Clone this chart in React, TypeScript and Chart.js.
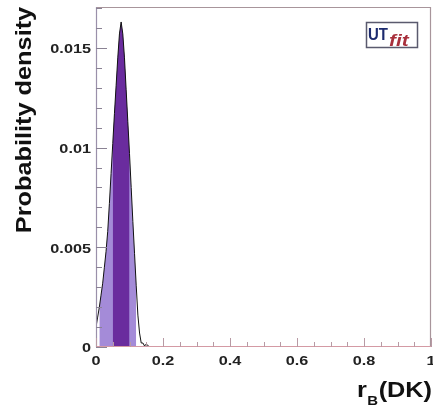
import React, { useEffect, useRef } from "react";
import { Chart, registerables } from "chart.js";

Chart.register(...registerables);

// ---- data ----
const rValues = [
  0, 0.005, 0.01, 0.015, 0.02, 0.025, 0.03, 0.035, 0.04, 0.045, 0.05, 0.055,
  0.06, 0.065, 0.07, 0.075, 0.08, 0.085, 0.09, 0.095, 0.1, 0.105, 0.11, 0.115,
  0.12, 0.125, 0.13, 0.135, 0.14, 0.145, 0.15, 0.16, 1.0,
];
const density = [
  0.001, 0.0015, 0.002, 0.0026, 0.0032, 0.004, 0.0048, 0.0058, 0.0072, 0.0087,
  0.0102, 0.0117, 0.0131, 0.0145, 0.0157, 0.0163, 0.0157, 0.0145, 0.0129,
  0.0113, 0.0097, 0.008, 0.0063, 0.0047, 0.0031, 0.0016, 0.0007, 0.0002,
  0.0002, 0.00005, 0.00015, 0, 0,
];
const yTickValues = [0, 0.005, 0.01, 0.015];
const yTickLabels = ["0", "0.005", "0.01", "0.015"];
const xTickValues = [0, 0.2, 0.4, 0.6, 0.8, 1];
const xTickLabels = ["0", "0.2", "0.4", "0.6", "0.8", "1"];
const lightBand = [0.01, 0.12];
const darkBand = [0.05, 0.1];
const yTitle = "Probability density";
const xTitleMain = "r";
const xTitleSub = "B";
const xTitleRest = "(DK)";

const FONT = '"Liberation Sans", Arial, Helvetica, sans-serif';

function points(range?: number[]) {
  const out: { x: number; y: number }[] = [];
  rValues.forEach((x, i) => {
    if (!range || (x >= range[0] - 1e-9 && x <= range[1] + 1e-9)) {
      out.push({ x, y: density[i] });
    }
  });
  return out;
}

function sText(
  ctx: CanvasRenderingContext2D,
  text: string,
  x: number,
  y: number,
  sx: number,
  align: CanvasTextAlign
) {
  ctx.save();
  ctx.translate(x, y);
  ctx.scale(sx, 1);
  ctx.textAlign = align;
  ctx.fillText(text, 0, 0);
  ctx.restore();
}

const decorPlugin = {
  id: "decor",
  afterDraw(chart: any) {
    const ctx: CanvasRenderingContext2D = chart.ctx;
    const xs = chart.scales.x;
    const ys = chart.scales.y;
    const { left, right, top, bottom } = chart.chartArea;
    ctx.save();

    // frame
    ctx.lineWidth = 1.2;
    ctx.strokeStyle = "#a8959b";
    ctx.beginPath();
    ctx.moveTo(left, top + 0.5);
    ctx.lineTo(right - 0.5, top + 0.5);
    ctx.lineTo(right - 0.5, bottom);
    ctx.stroke();
    ctx.strokeStyle = "#9a90aa";
    ctx.beginPath();
    ctx.moveTo(left + 0.5, top);
    ctx.lineTo(left + 0.5, bottom);
    ctx.stroke();
    ctx.strokeStyle = "#d49aa4";
    ctx.beginPath();
    ctx.moveTo(left, bottom - 0.5);
    ctx.lineTo(right, bottom - 0.5);
    ctx.stroke();

    // y ticks (inward)
    ctx.lineWidth = 1;
    ctx.strokeStyle = "#8a8294";
    for (let i = 0; i <= 17; i++) {
      const py = Math.round(ys.getPixelForValue(i * 0.001)) + 0.5;
      const len = i % 5 === 0 ? 11 : 6;
      ctx.beginPath();
      ctx.moveTo(left, py);
      ctx.lineTo(left + len, py);
      ctx.stroke();
    }
    // x ticks (inward)
    ctx.strokeStyle = "#b89aa4";
    for (let i = 0; i <= 20; i++) {
      const px = Math.round(xs.getPixelForValue(i * 0.05)) + 0.5;
      const len = i % 4 === 0 ? 9 : 5;
      ctx.beginPath();
      ctx.moveTo(px, bottom);
      ctx.lineTo(px, bottom - len);
      ctx.stroke();
    }

    // tick labels
    ctx.fillStyle = "#222";
    ctx.font = `bold 12.5px ${FONT}`;
    ctx.textBaseline = "middle";
    yTickValues.forEach((v, i) => {
      const py = ys.getPixelForValue(v) + 2;
      sText(ctx, yTickLabels[i], left - 5, py, 1.3, "right");
    });
    xTickValues.forEach((v, i) => {
      const px = xs.getPixelForValue(v);
      sText(ctx, xTickLabels[i], px, bottom + 15, 1.3, "center");
    });

    // y title
    ctx.fillStyle = "#111";
    ctx.font = `bold 22px ${FONT}`;
    ctx.textBaseline = "alphabetic";
    ctx.save();
    ctx.translate(30.5, 120);
    ctx.rotate(-Math.PI / 2);
    ctx.scale(1.15, 1);
    ctx.textAlign = "center";
    ctx.fillText(yTitle, 0, 0);
    ctx.restore();

    // x title r_B(DK)
    let cx = 357;
    ctx.textAlign = "left";
    ctx.font = `bold 22px ${FONT}`;
    sText(ctx, xTitleMain, cx, 397, 1.15, "left");
    cx += ctx.measureText(xTitleMain).width * 1.15 + 0.5;
    ctx.font = `bold 13px ${FONT}`;
    sText(ctx, xTitleSub, cx, 405, 1.15, "left");
    cx += ctx.measureText(xTitleSub).width * 1.15 + 0.5;
    ctx.font = `bold 22px ${FONT}`;
    sText(ctx, xTitleRest, cx, 397, 1.15, "left");

    // UTfit logo
    ctx.fillStyle = "#ffffff";
    ctx.fillRect(366, 22, 52, 26);
    ctx.strokeStyle = "#5a5a6e";
    ctx.lineWidth = 1.5;
    ctx.strokeRect(366.5, 22.5, 51, 25);
    ctx.fillStyle = "#1c2a6e";
    ctx.font = `bold 17px ${FONT}`;
    sText(ctx, "UT", 368, 40, 0.88, "left");
    ctx.fillStyle = "#a8303c";
    ctx.font = `italic bold 16px ${FONT}`;
    sText(ctx, "fit", 389, 46, 1.3, "left");

    ctx.restore();
  },
};

export default function App() {
  const ref = useRef<HTMLCanvasElement | null>(null);

  useEffect(() => {
    if (!ref.current) return;
    const chart = new Chart(ref.current, {
      type: "line",
      data: {
        datasets: [
          {
            data: points(),
            borderColor: "#111",
            borderWidth: 1,
            pointRadius: 0,
            fill: false,
            tension: 0,
            order: 0,
          },
          {
            data: points(darkBand),
            borderWidth: 0,
            borderColor: "rgba(0,0,0,0)",
            backgroundColor: "#6a2c9e",
            pointRadius: 0,
            fill: "origin",
            tension: 0,
            order: 1,
          },
          {
            data: points(lightBand),
            borderWidth: 0,
            borderColor: "rgba(0,0,0,0)",
            backgroundColor: "#a48bd8",
            pointRadius: 0,
            fill: "origin",
            tension: 0,
            order: 2,
          },
        ],
      },
      options: {
        responsive: false,
        animation: false,
        devicePixelRatio: 1,
        layout: { padding: { top: 7, right: 2, left: 0, bottom: 0 } },
        plugins: {
          legend: { display: false },
          tooltip: { enabled: false },
        },
        scales: {
          x: {
            type: "linear",
            min: 0,
            max: 1,
            grid: { display: false },
            border: { display: false },
            ticks: { display: false },
            afterFit: (s: any) => {
              s.height = 63;
            },
          },
          y: {
            type: "linear",
            min: 0,
            max: 0.01705,
            grid: { display: false },
            border: { display: false },
            ticks: { display: false },
            afterFit: (s: any) => {
              s.width = 96;
            },
          },
        },
      } as any,
      plugins: [decorPlugin],
    });
    return () => chart.destroy();
  }, []);

  return (
    <div style={{ position: "fixed", left: 0, top: 0, width: 433, height: 410, background: "#fff" }}>
      <canvas ref={ref} width={433} height={410} style={{ width: 433, height: 410, display: "block" }} />
    </div>
  );
}
